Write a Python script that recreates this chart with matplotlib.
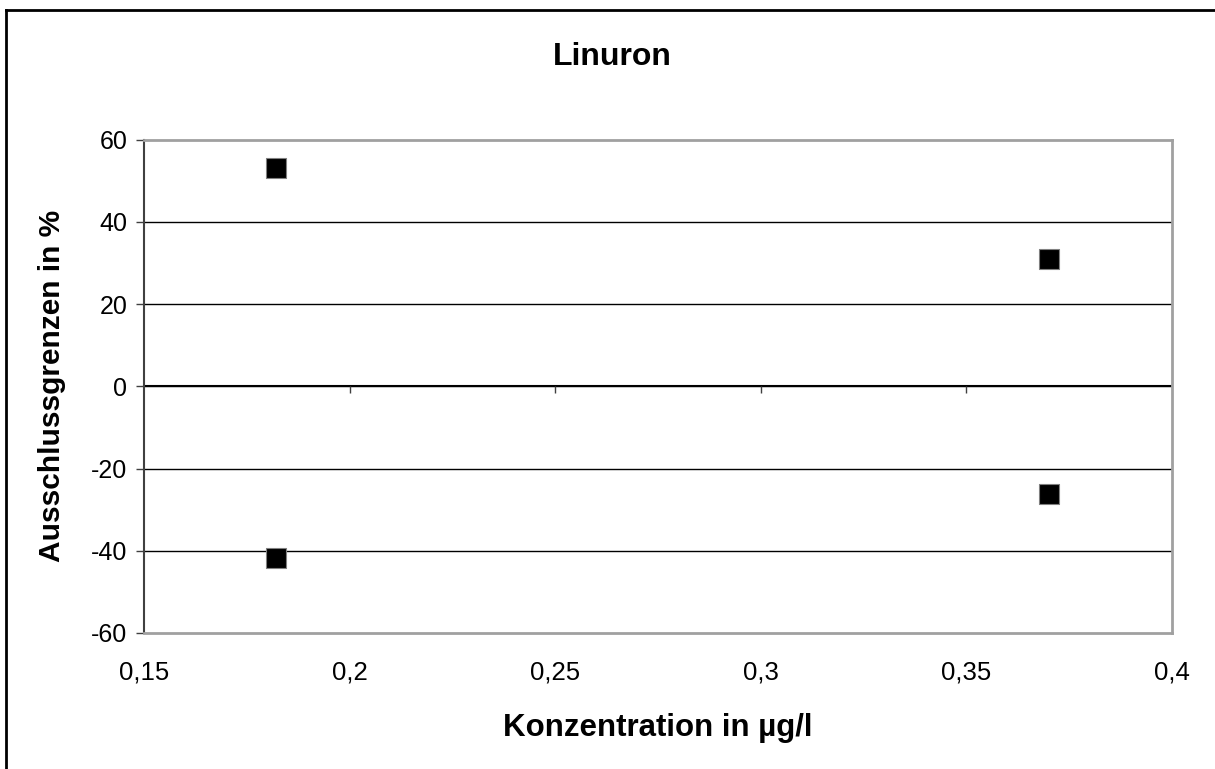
import matplotlib
matplotlib.use("Agg")
import matplotlib.pyplot as plt
from matplotlib.lines import Line2D
from matplotlib.markers import TICKDOWN

plt.rcParams['font.family'] = ['Liberation Sans', 'DejaVu Sans']

# Data
concentration = [0.182, 0.370]
upper_limits = [53.0, 31.0]
lower_limits = [-41.8, -26.2]
x_ticks = [0.15, 0.2, 0.25, 0.3, 0.35, 0.4]
x_tick_labels = ["0,15", "0,2", "0,25", "0,3", "0,35", "0,4"]
y_ticks = [-60, -40, -20, 0, 20, 40, 60]
y_tick_labels = ["-60", "-40", "-20", "0", "20", "40", "60"]

W, H = 1215, 769
fig = plt.figure(figsize=(W / 100, H / 100), dpi=100)
fig.patch.set_facecolor('white')

L, R, T, B = 144, 1172, 139.5, 633
ax = fig.add_axes([L / W, 1 - B / H, (R - L) / W, (B - T) / H])

ax.set_xlim(0.15, 0.4)
ax.set_ylim(-60, 60)

# gridlines
for yv in y_ticks[1:-1]:
    ax.axhline(yv, color='black', lw=1.0, zorder=1)

# x-axis at y=0 with downward tick marks
ax.axhline(0, color='black', lw=1.5, zorder=2)
ax.plot(x_ticks[1:-1], [0] * len(x_ticks[1:-1]), linestyle='none',
        marker=TICKDOWN, markersize=5, markeredgewidth=1, color='#404040',
        zorder=2, clip_on=False)

ax.scatter(concentration + concentration, upper_limits + lower_limits,
           marker='s', s=14.5 ** 2, facecolor='black', edgecolor='#808080',
           linewidth=0.8, zorder=3)

# spines
for s in ['top', 'right', 'bottom']:
    ax.spines[s].set_color('#a0a0a0')
    ax.spines[s].set_linewidth(2)
ax.spines['left'].set_color('#404040')
ax.spines['left'].set_linewidth(1.5)

ax.set_yticks(y_ticks)
ax.set_yticklabels(y_tick_labels, fontsize=18)
ax.tick_params(axis='y', direction='out', length=6, width=1, color='#404040', pad=6)

ax.set_xticks(x_ticks)
ax.set_xticklabels(x_tick_labels, fontsize=18.5)
ax.tick_params(axis='x', length=0, pad=20)

ax.set_xlabel("Konzentration in µg/l", fontsize=22.5, fontweight='bold', labelpad=20)
ax.set_ylabel("Ausschlussgrenzen in %", fontsize=21.5, fontweight='bold', labelpad=18)
fig.text(612 / W, 1 - 57 / H, "Linuron", fontsize=23, fontweight='bold',
         ha='center', va='center')

# outer chart border (left and top visible)
fig.add_artist(Line2D([6 / W, 6 / W], [0, 1 - 10 / H], color='black', lw=2,
                      transform=fig.transFigure))
fig.add_artist(Line2D([6 / W, 1], [1 - 10 / H, 1 - 10 / H], color='black', lw=2,
                      transform=fig.transFigure))

fig.savefig("out.png", dpi=100, facecolor='white')
